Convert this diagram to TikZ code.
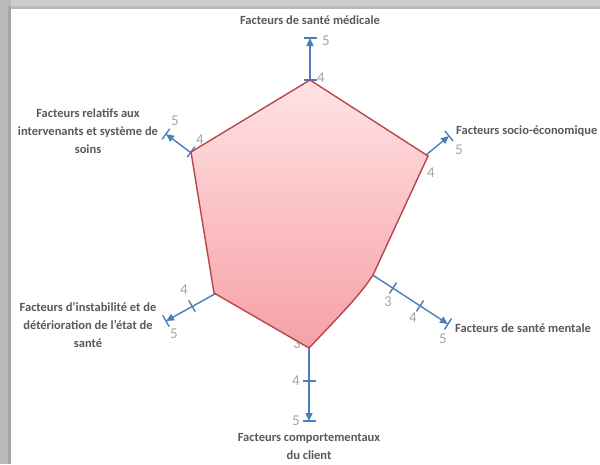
\documentclass[tikz,border=0pt]{standalone}
\usepackage{fontspec}
\setmainfont{Carlito}
\usetikzlibrary{arrows.meta,calc}
\definecolor{axisblue}{HTML}{4A7EBB}
\definecolor{numgray}{HTML}{A6A6A6}
\definecolor{txtgray}{HTML}{595959}
\definecolor{polyedge}{HTML}{B9464A}
\definecolor{polytop}{HTML}{FFE3E3}
\definecolor{polybot}{HTML}{F6A0A7}
\tikzset{
  axisline/.style={draw=axisblue,line width=1.4pt},
  axisarrow/.style={axisline,-{Triangle[length=8pt,width=7pt]}},
  ticknum/.style={text=numgray,font=\fontsize{15}{15}\selectfont,inner sep=0pt},
  factlabel/.style={text=txtgray,font=\fontsize{12.5}{18}\selectfont\bfseries,align=center,inner sep=0pt},
  polyshape/.style={draw=polyedge,line width=1.4pt,top color=polytop,bottom color=polybot,line join=miter}
}
\newcommand{\tickmark}[2]{\draw[axisline] ($(#1)!6.5pt!90:(#2)$) -- ($(#1)!6.5pt!-90:(#2)$);}
\begin{document}
\begin{tikzpicture}[x=1pt,y=-1pt]
\useasboundingbox (0,0) rectangle (600,464);
\fill[white] (0,0) rectangle (600,464);
% frame shadow
\fill[gray!40] (0,0) rectangle (600,9);
\fill[gray!55] (0,0) rectangle (11,464);
\fill[gray!55] (11,6) rectangle (600,9);
\fill[gray!70] (8,6) rectangle (11,464);
% coordinates
\coordinate (T0) at (310,90);
\coordinate (T4) at (310,80);
\coordinate (T5) at (310,38);
\coordinate (U0) at (420,160);
\coordinate (U4) at (427,154);
\coordinate (U5) at (449,136);
\coordinate (M0) at (365,270);
\coordinate (M3) at (393,288);
\coordinate (M4) at (420,306);
\coordinate (M5) at (448,324);
\coordinate (B0) at (309,338);
\coordinate (B4) at (309,381);
\coordinate (B5) at (309,421);
\coordinate (L0) at (222,290);
\coordinate (L4) at (192,306);
\coordinate (L5) at (166,321);
\coordinate (V0) at (198,158);
\coordinate (V4) at (191,152);
\coordinate (V5) at (166,134);
% hidden number behind polygon
\node[ticknum] (nb3) at (297,344) {3};
% axes
\draw[axisarrow] (T0) -- (T5);
\draw[axisarrow] (U0) -- (U5);
\draw[axisarrow] (M0) -- (M5);
\draw[axisarrow] (B0) -- (B5);
\draw[axisarrow] (L0) -- (L5);
\draw[axisarrow] (V0) -- (V5);
\tickmark{T4}{T5}
\tickmark{T5}{T4}
\tickmark{U5}{U4}
\tickmark{M3}{M4}
\tickmark{M4}{M5}
\tickmark{M5}{M4}
\tickmark{B4}{B5}
\tickmark{B5}{B4}
\tickmark{L4}{L5}
\tickmark{L5}{L4}
\tickmark{V4}{V5}
\tickmark{V5}{V4}
% polygon
\coordinate (P1) at (310,80);
\coordinate (P2) at (428,156);
\coordinate (P3) at (373,275);
\coordinate (P4) at (309,348);
\coordinate (P5) at (214,293);
\coordinate (P6) at (191,152);
\path[polyshape] (P1) -- (P2) -- (P3) .. controls (362,292) and (350,305) .. (P4) -- (P5) -- (P6) -- cycle;
% numbers
\node[ticknum] (nt5) at (326,41) {5};
\node[ticknum] (nt4) at (321,78) {4};
\node[ticknum] (nv5) at (175,121) {5};
\node[ticknum] (nv4) at (200,140) {4};
\node[ticknum] (nu5) at (459,150) {5};
\node[ticknum] (nu4) at (431,173) {4};
\node[ticknum] (nm3) at (388,302) {3};
\node[ticknum] (nm4) at (413,318) {4};
\node[ticknum] (nm5) at (443,339) {5};
\node[ticknum] (nb4) at (296,381) {4};
\node[ticknum] (nb5) at (296,421) {5};
\node[ticknum] (nl4) at (184,290) {4};
\node[ticknum] (nl5) at (174,334) {5};
% labels
\node[factlabel] (ft) at (310,20) {Facteurs de santé médicale};
\node[factlabel] (fv) at (88,131) {Facteurs relatifs aux\\intervenants et système de\\soins};
\node[factlabel,anchor=west] (fu) at (456,131) {Facteurs socio-économique};
\node[factlabel] (fl) at (88,325) {Facteurs d’instabilité et de\\détérioration de l’état de\\santé};
\node[factlabel,anchor=west] (fm) at (455,328) {Facteurs de santé mentale};
\node[factlabel] (fb) at (309,446) {Facteurs comportementaux\\du client};
\end{tikzpicture}
\end{document}
